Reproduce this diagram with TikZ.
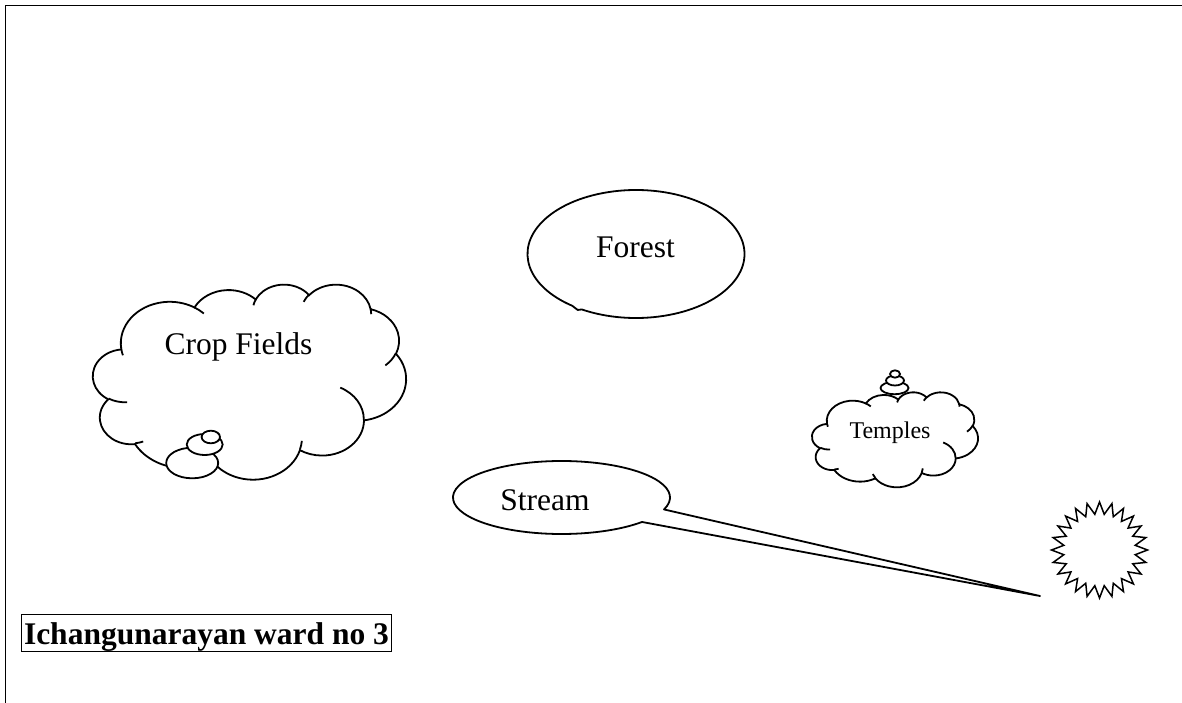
\documentclass[tikz,border=0pt]{standalone}
\usepackage{fontspec}
\setmainfont{Liberation Serif}
\usetikzlibrary{shapes.geometric,calc}

% One elliptic arc of the cloud outline, given as radii and a start
% angle / sweep measured as visual directions (degrees, y pointing down).
\newcommand\cloudarc[4]{%
  \pgfmathsetmacro\cloudA{atan2((#1)*sin(#3),(#2)*cos(#3))}%
  \pgfmathsetmacro\cloudB{atan2((#1)*sin((#3)+(#4)),(#2)*cos((#3)+(#4)))}%
  \pgfmathsetmacro\cloudD{\cloudB-\cloudA}%
  \pgfmathsetmacro\cloudD{((#4)>0)*((\cloudD<0)*360)-((#4)<0)*((\cloudD>0)*360)+(\cloudD)}%
  \pgfmathsetmacro\cloudB{\cloudA+\cloudD}%
  \pgfpatharc{\cloudA}{\cloudB}{#1pt and #2pt}%
}

% Closed cloud outline in a 432 x 432 box (y down)
\newcommand\cloudoutline{%
  \pgfpathmoveto{\pgfpoint{39.00pt}{143.70pt}}%
  \cloudarc{67.53}{91.90}{-190.48748}{123.78053}%
  \cloudarc{53.33}{72.67}{-144.10238}{89.94523}%
  \cloudarc{43.65}{59.45}{-145.80792}{99.72302}%
  \cloudarc{48.57}{65.95}{-130.98607}{117.24173}%
  \cloudarc{53.33}{72.73}{-78.70888}{109.02692}%
  \cloudarc{67.75}{92.20}{-46.26725}{130.269}%
  \cloudarc{57.85}{78.67}{0.62502}{114.03333}%
  \cloudarc{67.52}{92.15}{22.4516}{115.17255}%
  \cloudarc{77.20}{105.43}{66.24263}{75.71102}%
  \cloudarc{43.60}{59.18}{-274.94208}{146.73557}%
  \cloudarc{43.45}{59.45}{-246.8285}{152.51885}%
  \pgfpathclose}

% Small inner creases where the puffs of the cloud meet
\newcommand\cloudcreases{%
  \pgfpathmoveto{\pgfpoint{46.93pt}{261.77pt}}\cloudarc{43.45}{59.45}{86.742}{26.4295}%
  \pgfpathmoveto{\pgfpoint{69.28pt}{348.99pt}}\cloudarc{43.60}{59.18}{73.61047}{11.44747}%
  \pgfpathmoveto{\pgfpoint{164.78pt}{390.90pt}}\cloudarc{67.52}{92.15}{137.62415}{14.0811}%
  \pgfpathmoveto{\pgfpoint{288.27pt}{347.51pt}}\cloudarc{67.52}{92.15}{6.45327}{15.99835}%
  \pgfpathmoveto{\pgfpoint{341.29pt}{229.54pt}}\cloudarc{57.85}{78.67}{-70.29235}{70.91737}%
  \pgfpathmoveto{\pgfpoint{417.98pt}{153.54pt}}\cloudarc{53.33}{72.73}{30.31803}{27.7515}%
  \pgfpathmoveto{\pgfpoint{383.24pt}{54.26pt}}\cloudarc{48.57}{65.95}{-13.74433}{14.8589}%
  \pgfpathmoveto{\pgfpoint{290.78pt}{39.52pt}}\cloudarc{48.57}{65.95}{-149.18145}{18.19537}%
  \pgfpathmoveto{\pgfpoint{221.41pt}{47.20pt}}\cloudarc{43.65}{59.45}{-163.49427}{17.68635}%
  \pgfpathmoveto{\pgfpoint{140.00pt}{51.92pt}}\cloudarc{67.53}{91.90}{-66.70695}{12.31935}%
  \pgfpathmoveto{\pgfpoint{41.27pt}{157.89pt}}\cloudarc{67.53}{91.90}{157.65435}{11.85817}%
}

\begin{document}
\begin{tikzpicture}[x=1pt,y=-1pt,
  label/.style={inner sep=0pt, anchor=base, font=\fontsize{31.5}{36}\selectfont},
  smalllabel/.style={inner sep=0pt, anchor=base, font=\fontsize{24}{28}\selectfont},
  shapeline/.style={line width=1.8pt, draw=black, fill=white},
  bubble/.style={shapeline, ellipse, inner sep=0pt},
  frameline/.style={line width=1.2pt, draw=black},
]
\useasboundingbox (0,0) rectangle (1182,703);
\fill[white] (0,0) rectangle (1182,703);

% page frame (top and left edges)
\coordinate (framebl) at (5.5,703);
\coordinate (frametl) at (5.5,5.5);
\coordinate (frametr) at (1182,5.5);
\draw[frameline] (framebl) -- (frametl) -- (frametr);

% Crop Fields cloud
\begin{scope}[shift={(93,284)}, xscale=0.72454, yscale=-0.45139, line width=1.8pt]
  \cloudoutline \pgfsetfillcolor{white}\pgfusepath{fill,stroke}
  \cloudcreases \pgfusepath{stroke}
\end{scope}
\node[bubble, minimum width=52pt, minimum height=30.6pt] (cropbig) at (192.2,463) {};
\node[bubble, minimum width=36pt, minimum height=21pt] (cropmid) at (204.7,444.5) {};
\node[bubble, minimum width=18.4pt, minimum height=12.6pt] (cropsmall) at (210.8,437) {};
\node[label] (croptext) at (238.5,354) {Crop Fields};

% Temples cloud
\begin{scope}[shift={(812,392)}, xscale=0.38426, yscale=-0.21991, line width=1.8pt]
  \cloudoutline \pgfsetfillcolor{white}\pgfusepath{fill,stroke}
  \cloudcreases \pgfusepath{stroke}
\end{scope}
\node[bubble, minimum width=28pt, minimum height=12.4pt] (templebig) at (894.5,388) {};
\node[bubble, minimum width=18pt, minimum height=10pt] (templemid) at (895,380.5) {};
\node[bubble, minimum width=10pt, minimum height=7.4pt] (templesmall) at (895,374) {};
\node[smalllabel] (templetext) at (890,438) {Temples};

% Forest callout (pointer folded onto the outline, lower left)
\coordinate (forestc) at (636,254);
\coordinate (forestbase) at ($(forestc)+(240:108.5 and -64)$);
\coordinate (foresttip) at ($(forestc)+(238:110 and -66)$);
\draw[shapeline, line join=miter] (forestbase)
  arc[start angle=240, end angle=594, x radius=108.5pt, y radius=64pt]
  -- (foresttip) -- cycle;
\node[label] (foresttext) at (635.5,257) {Forest};

% Stream callout
\coordinate (streamtop) at (664.02,509.44);
\coordinate (streambot) at (642.01,521.97);
\coordinate (streamtip) at (1040,596);
\draw[shapeline, line join=round] (streamtop)
  arc[start angle=-19.1, end angle=317.9, x radius=108.5pt, y radius=36.5pt]
  -- (streamtip) -- cycle;
\node[label] (streamtext) at (545,510) {Stream};

% Starburst
\coordinate (sun) at (1099.5,550);
\draw[line width=1.5pt, fill=white, line join=miter] ($(sun)+(90:48)$)
  \foreach \i in {0,...,23} { -- ($(sun)+({97.5+15*\i}:36)$) -- ($(sun)+({105+15*\i}:48)$) } -- cycle;

% Title
\node[draw, line width=1pt, inner xsep=2.5pt, inner ysep=0pt, text height=30pt, text depth=7pt,
      anchor=north west, font=\bfseries\fontsize{31.5}{36}\selectfont] (title) at (21,614)
      {Ichangunarayan ward no 3};
\end{tikzpicture}
\end{document}
